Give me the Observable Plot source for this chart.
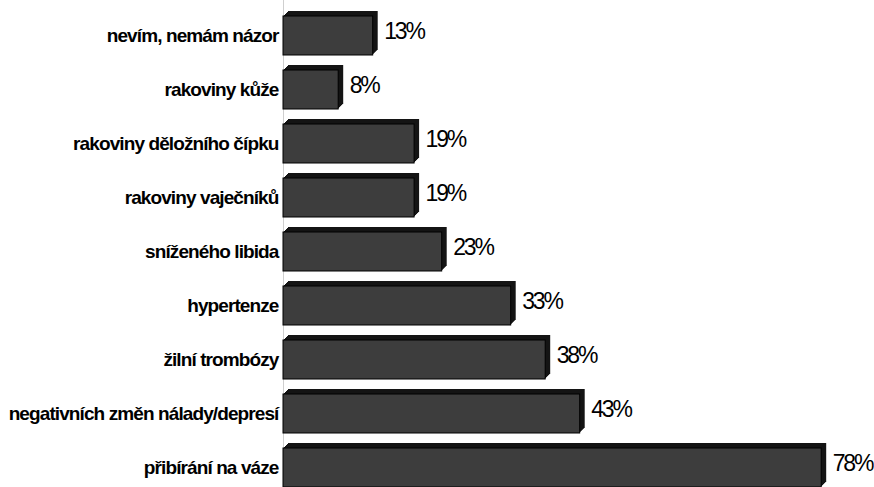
<!DOCTYPE html>
<html>
<head>
<meta charset="utf-8">
<script src="https://cdn.jsdelivr.net/npm/d3@7"></script>
<script src="https://cdn.jsdelivr.net/npm/@observablehq/plot@0.6"></script>
<style>
  html, body { margin: 0; padding: 0; background: #fff; }
  #chart { width: 874px; height: 487px; overflow: hidden; }
</style>
</head>
<body>
<div id="chart"></div>
<script>
const categories = [
  "nevím, nemám názor",
  "rakoviny kůže",
  "rakoviny děložního čípku",
  "rakoviny vaječníků",
  "sníženého libida",
  "hypertenze",
  "žilní trombózy",
  "negativních změn nálady/depresí",
  "přibírání na váze"
];
const values = [13, 8, 19, 19, 23, 33, 38, 43, 78];

const data = categories.map((c, i) => ({category: c, value: values[i]}));
const depthSteps = [1, 2, 3, 4, 5];

const shadows = depthSteps.map(k =>
  Plot.barX(data, {x: "value", y: "category", fill: "#141414", dx: k, dy: -k})
);

const chart = Plot.plot({
  width: 874,
  height: 487,
  marginTop: 0,
  marginBottom: 0,
  marginLeft: 283,
  marginRight: 0,
  style: {fontFamily: "'Liberation Sans', Arial, sans-serif", background: "#fff"},
  x: {domain: [0, 100], range: [283, 973], axis: null},
  y: {type: "band", domain: categories, range: [14, 489.5], paddingInner: 0.275, paddingOuter: 0, align: 0.5, axis: null},
  marks: [
    Plot.ruleX([0], {stroke: "#cfcfcf", strokeWidth: 1}),
    ...shadows,
    Plot.barX(data, {x: "value", y: "category", fill: "#3d3d3d", stroke: "#000", strokeWidth: 1}),
    Plot.text(data, {x: 0, y: "category", text: "category", textAnchor: "end", dx: -5, fontWeight: "bold", fontSize: 19, fill: "#000"}),
    Plot.text(data, {x: "value", y: "category", text: d => d.value + "%", textAnchor: "start", dx: 11, dy: -4, fontSize: 23, fill: "#000"})
  ]
});

const groups = chart.querySelectorAll('g[aria-label="text"]');
if (groups[0]) groups[0].querySelectorAll("text").forEach(t => t.setAttribute("letter-spacing", "-0.9"));
if (groups[1]) groups[1].querySelectorAll("text").forEach(t => t.setAttribute("letter-spacing", "-2.2"));

document.getElementById("chart").appendChild(chart);
</script>
</body>
</html>
